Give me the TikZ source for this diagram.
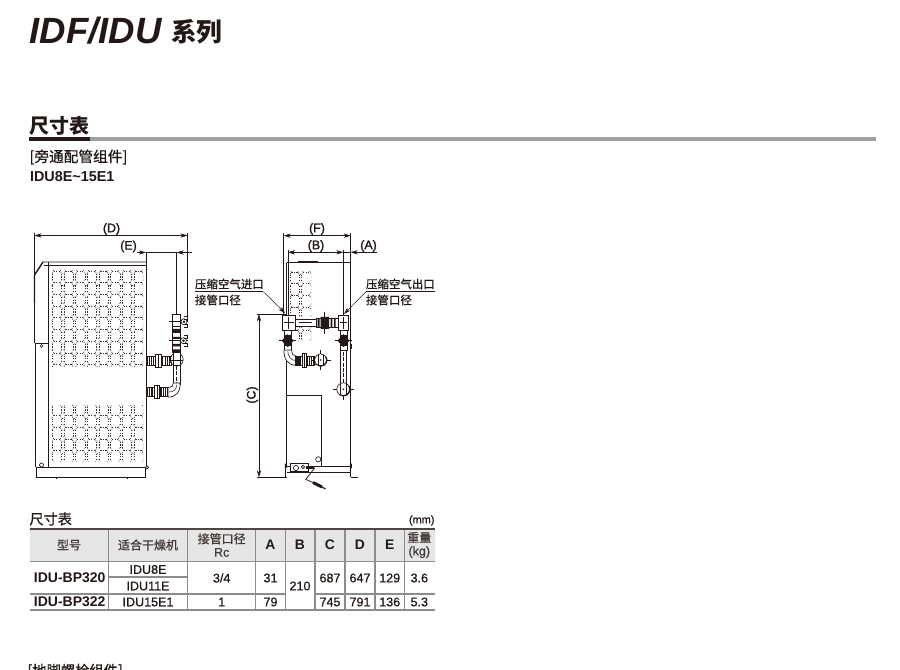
\documentclass[tikz,border=0pt]{standalone}
\usepackage{fontspec}
\setmainfont{Liberation Sans}
\newfontfamily\cjk{Noto Sans CJK SC}
\newfontfamily\cjkm[FakeBold=0.8]{Noto Sans CJK SC}
\newfontfamily\medf[FakeBold=1.6]{Liberation Sans}
\newfontfamily\regm[FakeBold=0.7]{Liberation Sans}
\usetikzlibrary{arrows.meta}
\definecolor{ink}{HTML}{231815}
\definecolor{headbg}{HTML}{E6E6E6}
\definecolor{rulegray}{HTML}{A0A0A0}
\definecolor{sepgray}{HTML}{8C8C8C}
\newcommand{\fsz}[1]{\fontsize{#1}{#1}\selectfont}
\tikzset{
  x=.75pt,y=-.75pt,
  every node/.style={inner sep=0pt,outer sep=0pt,text=ink},
  ln/.style={draw=ink,line width=.55pt},
  thin ln/.style={draw=ink,line width=.38pt},
  dim/.style={draw=ink,line width=.38pt},
  dimboth/.style={dim,{Stealth[length=7pt*.75,width=3.2pt]}-{Stealth[length=7pt*.75,width=3.2pt]}},
  dimend/.style={dim,-{Stealth[length=7pt*.75,width=3.2pt]}},
  perfl/.style={draw=ink!90,line width=.4pt,dash pattern=on .9pt off 1pt},
  pipe/.style={draw=ink,line width=.5pt,fill=white},
  dimlabel/.style={font=\medf\fsz{9.3}},
  note/.style={font=\cjkm\fsz{8.6},anchor=west},
  thead/.style={font=\cjkm\fsz{9},text=ink!85},
  tcell/.style={font=\regm\fsz{9.4}},
  tbold/.style={font=\bfseries\fsz{10.4}},
  thl/.style={font=\bfseries\fsz{10.5}},
  tsep/.style={draw=sepgray,line width=.9pt},
  trow/.style={draw=sepgray,line width=.8pt},
}
\newcommand{\perfblock}[6]{%
  \begin{scope}
    \clip (#1,#2) rectangle (#3,#4);
    \foreach \k in {-1,...,7}{\foreach \j in {-1,...,8}{%
      \pgfmathsetmacro{\cx}{#5+11.67*\k}%
      \pgfmathsetmacro{\cy}{#6+11.68*\j}%
      \draw[perfl] (\cx-2.6,\cy)--(\cx-1.2,\cy-2.8)--(\cx+1.2,\cy-2.8)--(\cx+2.6,\cy)--(\cx+1.2,\cy+2.8)--(\cx-1.2,\cy+2.8)--cycle;
      \draw[perfl] (\cx+2.6,\cy)--(\cx+9.07,\cy);
      \draw[perfl] (\cx-1.2,\cy+2.8)--(\cx-1.2,\cy+8.88);
      \draw[perfl] (\cx+1.2,\cy+2.8)--(\cx+1.2,\cy+8.88);
    }}
  \end{scope}}
\newcommand{\hunion}[3]{%
  \pgfmathsetmacro{\xa}{#1}\pgfmathsetmacro{\xb}{#2}\pgfmathsetmacro{\xw}{(\xb-\xa)}%
  \draw[pipe] (\xa,#3-4.6) rectangle (\xb,#3+4.6);
  \foreach \f in {.05,.13,.21,.29,.66,.76,.86,.94}{\draw[ink,line width=.85pt] (\xa+\f*\xw,#3-4.6)--(\xa+\f*\xw,#3+4.6);}
  \draw[pipe] (\xa+.36*\xw,#3-6.8) rectangle (\xa+.6*\xw,#3+6.8);
  \draw[ink,line width=.5pt] (\xa+.48*\xw,#3-6.8)--(\xa+.48*\xw,#3+6.8);}
\newcommand{\elbowend}[3]{%
  \draw[thin ln] (#1-#3-3.5,#2)--(#1+#3+4.5,#2) (#1,#2-#3-3.5)--(#1,#2+#3+4.5);
  \draw[pipe] (#1,#2) circle[radius=#3];
  \draw[ink,line width=1pt] (#1,#2)++(-30:#3) arc[start angle=-30,end angle=120,radius=#3];
  \draw[thin ln] (#1-#3*.45,#2-#3*.85)--(#1-#3*.45,#2+#3*.85) (#1+#3*.45,#2-#3*.85)--(#1+#3*.45,#2+#3*.85);
  \fill[ink] (#1,#2) circle[radius=.9];}
\newcommand{\darkvalve}[2]{%
  \fill[ink] (#1-3.7,#2-5.5) rectangle (#1+3.7,#2+5.5);
  \fill[ink] (#1-6,#2) -- (#1,#2-6.5) -- (#1+6,#2) -- (#1,#2+6.5) -- cycle;
  \draw[thin ln] (#1-8.5,#2)--(#1+8.5,#2);}
\begin{document}
\begin{tikzpicture}
\useasboundingbox (0,0) rectangle (900,670);
\clip (0,0) rectangle (900,670);
\fill[white] (0,0) rectangle (900,670);
% ---- headings
\node (title) [anchor=west,font=\bfseries\itshape\fsz{27.4}] at (29.8,31) {IDF/IDU};
\node (titlecn) [anchor=west,font=\cjk\bfseries\fsz{19.2}] at (171,31.5) {系列};
\node (sect) [anchor=west,font=\cjk\bfseries\fsz{15}] at (29.5,126) {尺寸表};
\fill[rulegray] (29,137) rectangle (876,141.5);
\fill[ink] (29,137) rectangle (90,141.5);
\node (sub) [anchor=west,font=\cjkm\fsz{11}] at (29.5,157) {[旁通配管组件]};
\node (model) [anchor=west,font=\bfseries\fsz{10.8}] at (30,177) {IDU8E\textasciitilde15E1};
% ---- side view
\perfblock{51}{271}{143}{367}{62.7}{282.7}
\perfblock{51}{405}{143}{461}{62.7}{415.7}
\draw[ln] (34.5,343)--(34.5,275)--(43,262)--(146,262);
\draw[ink,line width=1pt] (34.5,303)--(34.5,275)--(43,262);
\draw[ln] (35.5,343)--(35.5,467);
\draw[ln] (43.5,265)--(146,265);
\draw[ln] (48.3,262)--(48.3,467);
\draw[ln] (146,262)--(146,467);
\draw[ln] (34.5,343)--(48.3,343);
\draw[pipe] (41.5,346) circle[radius=1.5];
\draw[pipe] (41.5,465) circle[radius=2];
\draw[ln] (36,467) rectangle (145.5,477);
\draw[pipe] (147,467.5) circle[radius=1.6];
\draw[ln] (56,477)--(56,479) (127,477)--(127,479);
% side view dimensions
\coordinate (dl) at (34.5,235.5); \coordinate (dr) at (187.5,235.5);
\draw[dim] (34.5,233)--(34.5,275);
\draw[dim] (187.5,233)--(187.5,322);
\draw[dimboth] (dl)--(dr);
\node (labD) [dimlabel] at (111.5,229) {(D)};
\coordinate (ea) at (146,252.5); \coordinate (eb) at (176.7,252.5);
\draw[dim] (146,252.5)--(146,262);
\draw[dim] (176.7,252.5)--(176.7,314);
\draw[dimend] (137,252.5)--(ea);
\draw[dim] (ea)--(eb);
\draw[dimend] (191.5,252.5)--(eb);
\node (labE) [dimlabel] at (128.5,246.5) {(E)};
% side view piping
\draw[pipe] (173.3,365) rectangle (180,384);
\draw[thin ln,dash pattern=on 3pt off 1pt] (176.7,366)--(176.7,383);
\draw[pipe] (172.3,314) rectangle (180.7,326.5);
\draw[thin ln] (169,321.7)--(188,321.7);
\draw[pipe] (184,321.7) circle[radius=3];
\fill[ink] (184,321.7) circle[radius=1.4];
\draw[thin ln] (184,316)--(187,316)--(187,319)--(184,319) (184,324.5)--(187,324.5)--(187,327.5)--(184,327.5);
\draw[pipe] (172.8,326.5) rectangle (180.2,352);
\fill[ink] (172.8,329)rectangle(180.2,333) (172.8,337)rectangle(180.2,339) (172.8,344)rectangle(180.2,346.5) (172.8,349.5)rectangle(180.2,352);
\draw[thin ln] (169,340.7)--(188,340.7);
\draw[pipe] (183.5,340.7) circle[radius=3];
\fill[ink] (183.5,340.7) circle[radius=1.4];
\draw[thin ln] (184,335)--(187,335)--(187,338)--(184,338) (184,343.5)--(187,343.5)--(187,346.5)--(184,346.5);
\hunion{146.5}{171}{361}
\draw[pipe] (176.7,359.5) circle[radius=6.5];
\draw[ink,line width=.9pt] (176.7,359.5)++(210:6.5) arc[start angle=210,end angle=150,radius=6.5];
\draw[pipe] (173,352) rectangle (180.3,365);
\draw[thin ln] (171,360)--(183,360);
\hunion{146.5}{168.5}{392}
\draw[pipe] (168,387.3) .. controls (172,387.3) and (173.5,386) .. (173.3,383)--(180,383) .. controls (180.5,392) and (176,397.3) .. (168,397)--cycle;
\draw[thin ln] (176.7,385) .. controls (176.5,390) and (173,392) .. (169,392);
% ---- front view
\perfblock{290}{272}{311}{317}{300.5}{283.5}
\perfblock{290}{328}{311}{341}{300.5}{330}
\draw[ln] (286.7,262.7)--(350.7,262.7);
\draw[ln,line width=1.1pt] (297.7,262)--(318.3,262);
\draw[ln] (286.7,262.7)--(286.7,467);
\draw[ln] (350.7,262.7)--(350.7,477);
\draw[ln] (286.7,395.7)--(321.7,395.7)--(321.7,466.7);
\draw[ln] (286.7,466.7)--(350.7,466.7) (286.7,472)--(350.7,472);
% feet
\draw[ln] (280,477)--(285.7,477)--(285.7,465);
\draw[ln] (358,477)--(350.7,477);
\fill[ink] (284.8,463.5) rectangle (286.6,468) (350,463.5) rectangle (351.8,468);
\draw[pipe] (290,463) rectangle (308,471);
\draw[pipe] (296,468) circle[radius=2.6];
\draw[pipe] (303,467) circle[radius=1.6];
\draw[pipe] (318.3,459.3) circle[radius=2.6];
\fill[ink] (306,465.5) rectangle (314,469);
\draw[ln] (315,467.7)--(305.7,479.3)--(314,483);
\draw[ink,line width=2.2pt] (313,482.5)--(322,487);
\draw[ink,line width=.8pt] (322,487)--(325.5,489);
% front dims
\coordinate (fl) at (283.7,235.7); \coordinate (fr) at (350.7,235.7);
\draw[dim] (283.7,233)--(283.7,316) (350.7,233)--(350.7,262.7);
\draw[dimboth] (fl)--(fr);
\node (labF) [dimlabel] at (317,229) {(F)};
\coordinate (bl) at (288,252.3); \coordinate (br) at (343.3,252.3);
\draw[dim] (288,250)--(288,316) (343.3,250)--(343.3,316);
\draw[dimboth] (bl)--(br);
\node (labB) [dimlabel] at (316,246) {(B)};
\coordinate (ab) at (350.7,252.3); \coordinate (ae) at (376.7,252.3);
\draw[dimend] (ae)--(ab);
\draw[dim] (ab)--(br);
\node (labA) [dimlabel] at (368.5,246) {(A)};
\coordinate (ct) at (259,314.3); \coordinate (cb) at (259,477.3);
\draw[dim] (257,314.3)--(287,314.3) (257,477.3)--(287,477.3);
\draw[dimboth] (ct)--(cb);
\node (labC) [dimlabel,rotate=90] at (252.3,395) {(C)};
% front piping
\draw[pipe] (295.7,319.3) rectangle (316.7,326);
\draw[thin ln] (299,322.6)--(312,322.6);
\draw[pipe] (316.7,318) rectangle (338.3,327);
\fill[ink] (317.5,318)rectangle(319.5,327) (320.5,317)rectangle(329,329) (330.5,318)rectangle(332.3,327) (334,318)rectangle(335.5,327);
\draw[ink,line width=.8pt] (324.3,312)--(324.3,334);
\draw[pipe] (284,330) rectangle (291.7,350);
\darkvalve{287.7}{340.7}
\draw[pipe] (282.3,315.5) rectangle (295.7,330);
\draw[thin ln] (284,322.6)--(294,322.6) (288,317)--(288,329);
\draw[pipe] (284,350) .. controls (283.6,359) and (288,365.3) .. (296,365.3)--(296,356) .. controls (293,356) and (291.7,354) .. (291.7,350)--cycle;
\draw[thin ln] (287.8,351) .. controls (287.8,356) and (291,360.5) .. (295.5,360.5);
\hunion{295}{314.3}{360.5}
\draw[pipe] (314.3,357) rectangle (318,364);
\elbowend{320.7}{360}{6}
\draw[pipe] (340,330) rectangle (347.3,350);
\darkvalve{343.5}{340.7}
\draw[pipe] (338.3,315.5) rectangle (348.3,330);
\draw[thin ln] (339.5,322.6)--(347,322.6) (343.3,317)--(343.3,329);
\draw[pipe] (340,350) rectangle (346.8,384);
\draw[thin ln,dash pattern=on 3pt off 1pt] (343.3,352)--(343.3,382);
\elbowend{343.3}{389.3}{6.5}
\fill[ink] (350,344)rectangle(352,349);
% notes
\node (inA) [note] at (195,284) {压缩空气进口};
\node (inB) [note] at (195,300) {接管口径};
\coordinate (ln1a) at (195,291.7); \coordinate (ln1b) at (263.3,291.7); \coordinate (ln1c) at (285,313);
\draw[dim] (ln1a)--(ln1b);
\draw[dimend] (ln1b)--(ln1c);
\node (outA) [note] at (366,284) {压缩空气出口};
\node (outB) [note] at (366,300) {接管口径};
\coordinate (ln2a) at (435,291.7); \coordinate (ln2b) at (366,291.7); \coordinate (ln2c) at (344,314);
\draw[dim] (ln2a)--(ln2b);
\draw[dimend] (ln2b)--(ln2c);
% ---- table
\node (tabt) [anchor=west,font=\cjkm\fsz{10.6}] at (29.5,519) {尺寸表};
\node (unit) [anchor=east,font=\regm\fsz{8.2}] at (434.5,520.5) {(mm)};
\fill[headbg] (29.5,529) rectangle (434.5,561);
\foreach \xx in {108.3,187.7,255.7,285.3,315,345,375,404.3}{\draw[tsep] (\xx,529)--(\xx,561);}
\foreach \xx in {108.3,187.7,255.7,285.3,315,345,375,404.3}{\draw[tsep] (\xx,561)--(\xx,610);}
\draw[ink!80,line width=1.1pt] (29.5,529)--(434.5,529);
\draw[trow] (29.5,561.5)--(434.5,561.5);
\draw[trow] (108.3,577)--(187.7,577);
\draw[trow] (29.5,594)--(285.3,594) (315,594)--(434.5,594);
\draw[trow] (29.5,610)--(434.5,610);
\node (h1) [thead] at (69,545) {型号};
\node (h2) [thead] at (148,545) {适合干燥机};
\node (h3) [thead,align=center] at (221.7,545) {接管口径\\[1pt]{\regm\fsz{9.4}Rc}};
\node (hA) [tbold] at (270.5,545) {A};
\node (hB) [tbold] at (300,545) {B};
\node (hC) [tbold] at (330,545) {C};
\node (hD) [tbold] at (360,545) {D};
\node (hE) [tbold] at (389.7,545) {E};
\node (hW) [thead,align=center] at (419.3,545) {重量\\[1pt]{\regm\fsz{9.4}(kg)}};
\node (m1) [thl] at (69.7,578) {IDU-BP320};
\node (m2) [thl] at (69.7,602) {IDU-BP322};
\node (d1) [tcell] at (148,569.5) {IDU8E};
\node (d2) [tcell] at (148,586) {IDU11E};
\node (d3) [tcell] at (148,602) {IDU15E1};
\node (p1) [tcell] at (221.7,578) {3/4};
\node (p2) [tcell] at (221.7,602) {1};
\node (a1) [tcell] at (270.5,578) {31};
\node (a2) [tcell] at (270.5,602) {79};
\node (b1) [tcell] at (300,586) {210};
\node (c1) [tcell] at (330,578) {687};
\node (c2) [tcell] at (330,602) {745};
\node (e1) [tcell] at (360,578) {647};
\node (e2) [tcell] at (360,602) {791};
\node (f1) [tcell] at (389.7,578) {129};
\node (f2) [tcell] at (389.7,602) {136};
\node (w1) [tcell] at (419.3,578) {3.6};
\node (w2) [tcell] at (419.3,602) {5.3};
\node (foot) [anchor=west,font=\cjkm\fsz{10.7}] at (27.5,671) {[地脚螺栓组件]};
\end{tikzpicture}
\end{document}
